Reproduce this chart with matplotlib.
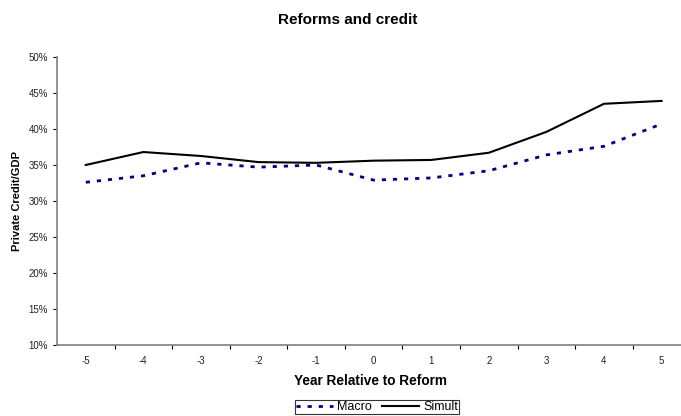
import numpy as np
import matplotlib.pyplot as plt
from matplotlib.ticker import FixedLocator, PercentFormatter

plt.rcParams['font.family'] = ['Liberation Sans', 'DejaVu Sans']
plt.rcParams['axes.unicode_minus'] = False

# Datos
years = [-5, -4, -3, -2, -1, 0, 1, 2, 3, 4, 5]
macro = [32.6, 33.5, 35.3, 34.7, 35.0, 32.9, 33.2, 34.2, 36.4, 37.6, 40.7]
simult = [35.0, 36.8, 36.25, 35.4, 35.3, 35.6, 35.7, 36.7, 39.6, 43.5, 43.9]

fig = plt.figure(figsize=(6.81, 4.16), dpi=100)
ax = fig.add_axes([0.0837, 0.1707, 0.93, 0.6923])
ax_w = 0.93 * 681  # ancho del eje en pixeles

ax.plot(years, macro, color='#000080', lw=2, ls=(0, (1.5, 2.5)), label='Macro')
ax.plot(years, simult, color='black', lw=1.5, label='Simult')

ax.set_xlim(-5.5, 5.5)
ax.set_ylim(10, 50)
ax.set_yticks(np.arange(10, 51, 5))
ax.yaxis.set_major_formatter(PercentFormatter(decimals=0))
ax.set_xticks(years)
ax.xaxis.set_minor_locator(FixedLocator(np.arange(-4.5, 5.5, 1)))
ax.tick_params(axis='x', which='major', length=0, pad=8, labelsize=7, labelcolor='#222222')
ax.tick_params(axis='x', which='minor', length=3, color='black', width=0.8)
ax.tick_params(axis='y', length=3, labelsize=7, color='black', width=0.8, labelcolor='#222222')

for s in ['top', 'right']:
    ax.spines[s].set_visible(False)
for s in ['left', 'bottom']:
    ax.spines[s].set_color('#808080')
    ax.spines[s].set_linewidth(1.2)

fig.text(348 / 681, 1 - 20 / 416, 'Reforms and credit', fontsize=11,
         fontweight='bold', ha='center', va='center')
ax.set_ylabel('Private Credit/GDP', fontsize=8, fontweight='bold')
ax.yaxis.set_label_coords((22 - 57) / ax_w, 0.5)
ax.set_xlabel('Year Relative to Reform', fontsize=9.8, fontweight='bold')
ax.xaxis.set_label_coords((371 - 57) / ax_w, -0.1)

leg = fig.legend(loc='center', bbox_to_anchor=(377 / 681, 1 - 407 / 416), ncol=2,
                 fontsize=9, frameon=True, fancybox=False, edgecolor='black',
                 handlelength=3, handletextpad=0.3, columnspacing=0.8,
                 borderpad=0.1)
leg.get_frame().set_linewidth(0.8)

fig.savefig('out.png', dpi=100)
